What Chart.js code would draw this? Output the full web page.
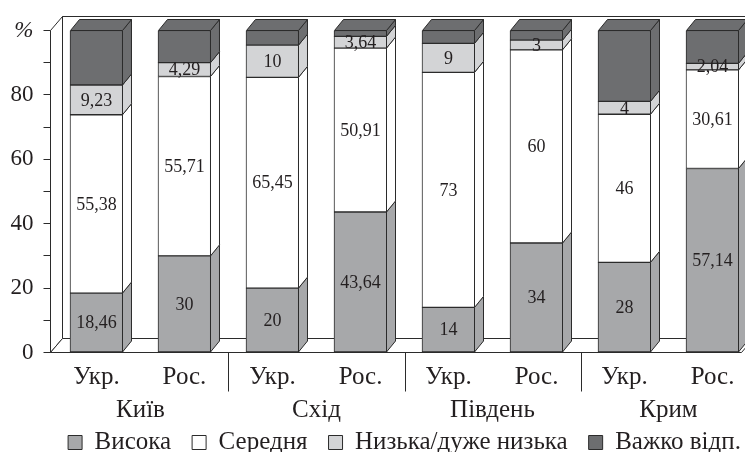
<!DOCTYPE html>
<html>
<head>
<meta charset="utf-8">
<script src="https://cdn.jsdelivr.net/npm/chart.js@4/dist/chart.umd.min.js"></script>
<style>
  html, body { margin: 0; padding: 0; background: #fff; width: 745px; height: 452px; overflow: hidden; }
  canvas { display: block; }
</style>
</head>
<body>
<canvas id="chart" width="809" height="479"></canvas>
<script>
// Respondent groups (x axis) and regions they belong to
const categories = ['Укр.', 'Рос.', 'Укр.', 'Рос.', 'Укр.', 'Рос.', 'Укр.', 'Рос.'];
const regions = ['Київ', 'Схід', 'Південь', 'Крим'];
const seriesNames = ['Висока', 'Середня', 'Низька/дуже низька', 'Важко відп.'];

// Shares, %
const high   = [18.46, 30, 20, 43.64, 14, 34, 28, 57.14];
const medium = [55.38, 55.71, 65.45, 50.91, 73, 60, 46, 30.61];
const low    = [9.23, 4.29, 10, 3.64, 9, 3, 4, 2.04];
const hard   = [16.93, 10, 4.55, 1.81, 4, 3, 22, 10.21];

const yTickValues = [0, 20, 40, 60, 80, 100];
const yTickLabels = ['0', '20', '40', '60', '80', '%'];

const COLORS = ['#a7a8aa', '#ffffff', '#d3d4d6', '#6d6e70'];
const EDGE = '#2b2b2b';
const INK = '#231f20';
const FONT = 'Liberation Serif';
const BAR_DX = 9, BAR_DY = -11;     // depth of each bar
const WALL_DX = 12, WALL_DY = -14;  // depth of the walls and floor
const CANVAS_W = 809;
const PLOT_RIGHT = 741.5;
const LEGEND_LIFT = 14;             // legend sits closer to the region names

const fmt = v => String(v).replace('.', ',');

function poly(ctx, pts, fill) {
  ctx.beginPath();
  ctx.moveTo(pts[0][0], pts[0][1]);
  for (let i = 1; i < pts.length; i++) ctx.lineTo(pts[i][0], pts[i][1]);
  ctx.closePath();
  if (fill) { ctx.fillStyle = fill; ctx.fill(); }
  ctx.stroke();
}

// Walls, floor, bar sides/tops, value labels and group separators
const box3d = {
  id: 'box3d',
  afterLayout(chart) {
    const lg = chart.legend;
    if (lg) { lg.top -= LEGEND_LIFT; lg.bottom -= LEGEND_LIFT; }
  },
  beforeDatasetsDraw(chart) {
    const { ctx, chartArea: a, scales } = chart;
    const top = scales.y.getPixelForValue(100);
    const bot = scales.y.getPixelForValue(0);
    ctx.save();
    ctx.lineWidth = 1;
    ctx.strokeStyle = EDGE;
    // back wall
    poly(ctx, [[a.left + WALL_DX, top + WALL_DY], [a.right + WALL_DX, top + WALL_DY],
               [a.right + WALL_DX, bot + WALL_DY], [a.left + WALL_DX, bot + WALL_DY]], '#fff');
    // left wall
    poly(ctx, [[a.left, bot], [a.left, top], [a.left + WALL_DX, top + WALL_DY],
               [a.left + WALL_DX, bot + WALL_DY]], '#fff');
    // floor
    poly(ctx, [[a.left, bot], [a.left + WALL_DX, bot + WALL_DY],
               [a.right + WALL_DX, bot + WALL_DY], [a.right, bot]], '#fff');
    ctx.restore();
  },
  afterDatasetsDraw(chart) {
    const { ctx, scales } = chart;
    const metas = chart.getSortedVisibleDatasetMetas();
    ctx.save();
    ctx.lineWidth = 1;
    ctx.strokeStyle = EDGE;
    metas.forEach((meta, k) => {
      const color = chart.data.datasets[meta.index].backgroundColor;
      const isTop = k === metas.length - 1;
      meta.data.forEach(bar => {
        const { x, y, base, width } = bar.getProps(['x', 'y', 'base', 'width'], true);
        const l = x - width / 2 + 0.5, r = x + width / 2 - 0.5;
        poly(ctx, [[r, y], [r + BAR_DX, y + BAR_DY], [r + BAR_DX, base + BAR_DY], [r, base]], color);
        if (isTop) {
          poly(ctx, [[l, y], [l + BAR_DX, y + BAR_DY], [r + BAR_DX, y + BAR_DY], [r, y]], color);
        }
      });
    });
    // value labels on the first three series
    ctx.fillStyle = INK;
    ctx.font = '18px "' + FONT + '"';
    ctx.textAlign = 'center';
    ctx.textBaseline = 'middle';
    metas.forEach(meta => {
      if (meta.index > 2) return;
      const ds = chart.data.datasets[meta.index];
      meta.data.forEach((bar, i) => {
        const { x, y, base } = bar.getProps(['x', 'y', 'base'], true);
        ctx.fillText(fmt(ds.data[i].y), x, (y + base) / 2 + 1);
      });
    });
    // separators between regions under the floor
    const bot = scales.y.getPixelForValue(0);
    ctx.beginPath();
    for (let g = 1; g < regions.length; g++) {
      const px = Math.round(scales.x.getPixelForValue(2 * g - 0.5)) + 0.5;
      ctx.moveTo(px, bot);
      ctx.lineTo(px, bot + 39);
    }
    ctx.stroke();
    ctx.restore();
  }
};

const series = [high, medium, low, hard];
const datasets = series.map((vals, s) => ({
  label: seriesNames[s],
  data: vals.map((v, i) => ({ x: i, y: v })),
  backgroundColor: COLORS[s],
  borderColor: EDGE,
  borderWidth: 1,
  borderSkipped: false,
  barThickness: 53
}));

const xRange = { min: -0.5227, max: 7.3295, offset: false };

new Chart(document.getElementById('chart'), {
  type: 'bar',
  data: { datasets },
  plugins: [box3d],
  options: {
    responsive: false,
    animation: false,
    devicePixelRatio: 1,
    layout: { padding: { top: 30.5, left: 0, right: 0, bottom: 0 } },
    plugins: {
      tooltip: { enabled: false },
      legend: {
        position: 'bottom',
        labels: {
          boxWidth: 14, boxHeight: 14, padding: 21,
          color: INK, font: { family: FONT, size: 25 }
        }
      }
    },
    scales: {
      x: {
        type: 'linear', stacked: true, ...xRange,
        afterFit(s) { s.height = 38.5; },
        afterBuildTicks(s) { s.ticks = categories.map((c, i) => ({ value: i })); },
        grid: { display: false, drawTicks: false, offset: false },
        border: { display: false },
        ticks: {
          autoSkip: false, maxRotation: 0, padding: 9.5,
          color: INK, font: { family: FONT, size: 25 },
          callback: v => categories[Math.round(v)]
        }
      },
      xg: {
        type: 'linear', position: 'bottom', weight: 1, ...xRange,
        afterFit(s) { s.height = 32; },
        afterBuildTicks(s) { s.ticks = regions.map((r, i) => ({ value: 2 * i + 0.5 })); },
        grid: { display: false, drawTicks: false, offset: false },
        border: { display: false },
        ticks: {
          autoSkip: false, maxRotation: 0, padding: 4.5,
          color: INK, font: { family: FONT, size: 25 },
          callback: v => regions[Math.round((v - 0.5) / 2)]
        }
      },
      y: {
        stacked: true, min: 0, max: 100,
        afterFit(s) { s.width = 50.5; },
        afterBuildTicks(s) {
          const t = [];
          for (let v = 0; v <= 100; v += 10) t.push({ value: v });
          s.ticks = t;
        },
        border: { display: false },
        grid: { drawOnChartArea: false, drawTicks: true, tickLength: 7, color: EDGE, lineWidth: 1 },
        ticks: {
          padding: 10, color: INK,
          font: ctx => ({ family: FONT, size: 23, style: ctx.tick && ctx.tick.value === 100 ? 'italic' : 'normal' }),
          callback: v => {
            const k = yTickValues.indexOf(v);
            return k >= 0 ? yTickLabels[k] : '';
          }
        }
      },
      yr: {
        position: 'right', min: 0, max: 100,
        afterFit(s) { s.width = CANVAS_W - PLOT_RIGHT; },
        grid: { display: false, drawTicks: false },
        border: { display: false },
        ticks: { display: false }
      }
    }
  }
});
</script>
</body>
</html>
